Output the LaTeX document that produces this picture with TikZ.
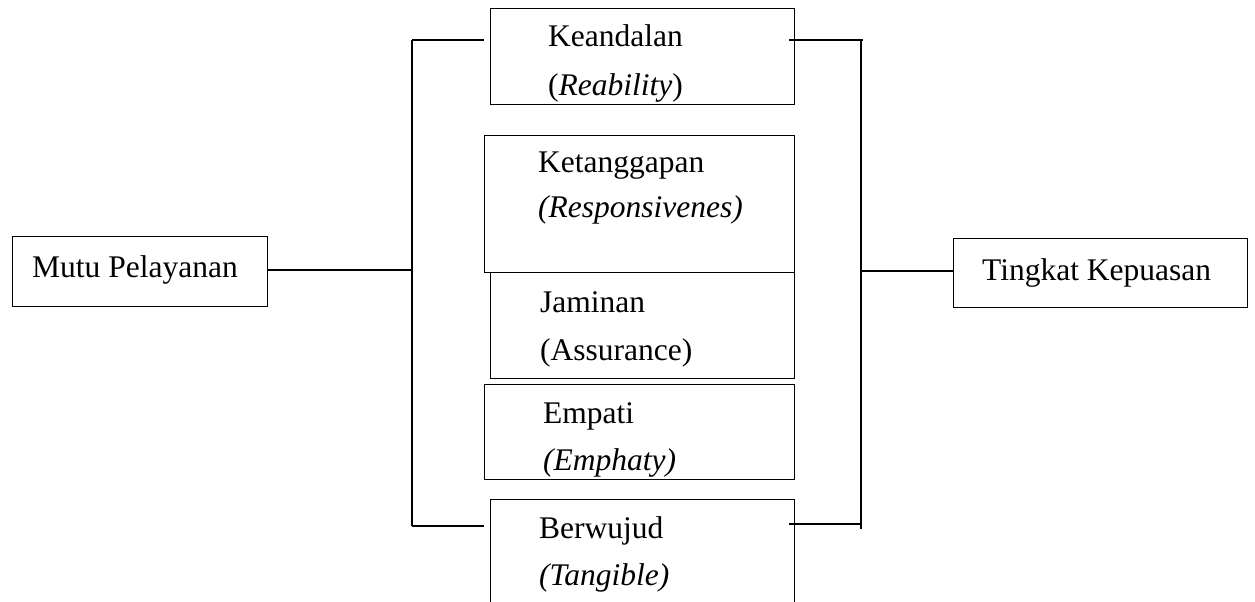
\documentclass[tikz,border=0pt]{standalone}
\usepackage{fontspec}
\setmainfont{Liberation Serif}
\begin{document}
\begin{tikzpicture}[x=1pt,y=-1pt,
  box/.style={draw=black, line width=1.1pt, inner sep=0pt, anchor=north west},
  lbl/.style={anchor=base west, inner sep=0pt, font=\fontsize{31.5}{38}\selectfont},
  conn/.style={draw=black, line width=1.6pt},
  trunk/.style={draw=black, line width=2pt}]
\useasboundingbox (0,0) rectangle (1255,602);
\clip (0,0) rectangle (1255,602);
% boxes
\node[box, minimum width=255pt, minimum height=70pt] (mutu) at (12,236) {};
\node[box, minimum width=294pt, minimum height=69pt] (ting) at (953,238) {};
\node[box, minimum width=304pt, minimum height=96pt] (kea) at (490,8) {};
\node[box, minimum width=310pt, minimum height=137pt] (ket) at (484,135) {};
\node[box, minimum width=304pt, minimum height=106pt] (jam) at (490,272) {};
\node[box, minimum width=310pt, minimum height=95pt] (emp) at (484,384) {};
\node[box, minimum width=304pt, minimum height=130pt] (ber) at (490,499) {};
% texts
\node[lbl] (tmutu) at (32,277) {Mutu Pelayanan};
\node[lbl] (tting) at (982,280) {Tingkat Kepuasan};
\node[lbl] (tkea1) at (548,47) {Keandalan};
\node[lbl] (tkea2) at (548,95) {(\textit{Reability})};
\node[lbl] (tket1) at (538,172) {Ketanggapan};
\node[lbl] (tket2) at (538,217) {\textit{(Responsivenes)}};
\node[lbl] (tjam1) at (540,312) {Jaminan};
\node[lbl] (tjam2) at (540,360) {(Assurance)};
\node[lbl] (temp1) at (543,423) {Empati};
\node[lbl] (temp2) at (543,470) {\textit{(Emphaty)}};
\node[lbl] (tber1) at (539,538) {Berwujud};
\node[lbl] (tber2) at (539,585) {\textit{(Tangible)}};
% connector points
\coordinate (Ltop) at (412,40);
\coordinate (Lmid) at (412,270);
\coordinate (Lbot) at (412,526);
\coordinate (Lk) at (484,40);
\coordinate (Lb) at (484,526);
\coordinate (Rk) at (789,40);
\coordinate (Rkend) at (863,40);
\coordinate (Rtop) at (861,40);
\coordinate (Rmid) at (861,271);
\coordinate (Rbot) at (861,529);
\coordinate (Rb) at (789,524);
\coordinate (Rbend) at (861,524);
% connectors
\draw[conn] (mutu.east |- Lmid) -- (Lmid);
\draw[conn] (Ltop) -- (Lbot);
\draw[conn] (Ltop) -- (Lk);
\draw[conn] (Lbot) -- (Lb);
\draw[conn] (Rk) -- (Rkend);
\draw[trunk] (Rtop) -- (Rbot);
\draw[conn] (Rb) -- (Rbend);
\draw[conn] (Rmid) -- (ting.west |- Rmid);
\end{tikzpicture}
\end{document}
